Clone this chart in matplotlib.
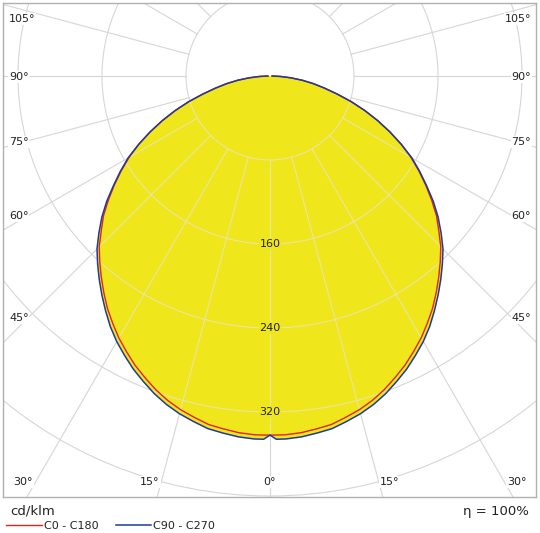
import numpy as np
import matplotlib
matplotlib.use("Agg")
import matplotlib.pyplot as plt
from matplotlib.patches import Circle

# luminous intensity (cd/klm) vs gamma angle, symmetric about 0
gamma = [0, 1, 2.5, 5, 7.5, 10, 12.5, 15, 17.5, 20, 22.5, 25, 27.5, 30, 32.5, 35, 37.5,
         40, 42.5, 45, 47.5, 50, 52.5, 55, 57.5, 60, 62.5, 65, 67.5, 70, 72.5, 75, 77.5,
         80, 82.5, 85, 87.5, 90]
c0_c180 = [342, 342, 342, 341, 339, 337, 333, 329, 324, 318, 311, 304, 296, 288, 279, 270, 260,
           250, 240, 230, 218, 207, 194, 181, 168, 155, 141, 126, 111, 96, 81, 66, 53,
           42, 31, 20, 10, 2]
c90_c270 = [342, 346, 346, 345, 343, 341, 337, 333, 328, 322, 315, 308, 300, 292, 283, 273, 263,
            253, 243, 233, 221, 209, 196, 182, 169, 156, 141, 126, 111, 96, 81, 66, 53,
            42, 31, 20, 10, 2]

grid_radii = [80, 160, 240, 320, 400, 480, 560]
radial_labels = [160, 240, 320]
spoke_step = 15

# angle labels: (text, pixel x, pixel y, align)
angle_labels = [
    ("105°", 9, 19, "left"), ("90°", 9, 77, "left"), ("75°", 9, 142, "left"),
    ("60°", 9, 216, "left"), ("45°", 9, 318, "left"),
    ("105°", 531, 19, "right"), ("90°", 531, 77, "right"), ("75°", 531, 142, "right"),
    ("60°", 531, 216, "right"), ("45°", 531, 318, "right"),
    ("30°", 23, 482, "center"), ("15°", 150, 482, "center"), ("0°", 270, 482, "center"),
    ("15°", 390, 482, "center"), ("30°", 517, 482, "center"),
]

W, H = 540, 533
OX, OY, SCALE = 270, 76, 1.05  # origin in pixels, pixels per cd/klm
YELLOW = "#efe61c"
RED = "#e3221c"
BLUE = "#1d3b9a"
GRID = "#d6d6d6"
GRID_ON_FILL = "#ebe5a4"
TXT = "#222222"


def to_data(px, py):
    return (px - OX) / SCALE, (OY - py) / SCALE


def curve(values):
    g = np.radians(np.array(gamma, dtype=float))
    v = np.array(values, dtype=float)
    th = np.concatenate([-g[::-1], g[1:]])
    r = np.concatenate([v[::-1], v[1:]])
    return r * np.sin(th), -r * np.cos(th)


def draw_grid(ax, color, z, clip=None):
    arts = []
    for rad in grid_radii:
        c = Circle((0, 0), rad, fill=False, ec=color, lw=0.8, zorder=z)
        ax.add_patch(c)
        arts.append(c)
    for a in range(0, 360, spoke_step):
        t = np.radians(a)
        ln, = ax.plot([grid_radii[0] * np.sin(t), 800 * np.sin(t)],
                      [-grid_radii[0] * np.cos(t), -800 * np.cos(t)],
                      color=color, lw=0.8, zorder=z)
        arts.append(ln)
    if clip is not None:
        for art in arts:
            art.set_clip_path(clip)


fig = plt.figure(figsize=(W / 100, H / 100), dpi=100)
ax = fig.add_axes([3 / W, 1 - 497 / H, 533 / W, 494 / H])
x0, y0 = to_data(3, 3)
x1, y1 = to_data(536, 497)
ax.set_xlim(x0, x1)
ax.set_ylim(y1, y0)
ax.set_xticks([])
ax.set_yticks([])
for sp in ax.spines.values():
    sp.set_color("#b0b0b0")
    sp.set_linewidth(1.0)

bx, by = curve(c90_c270)
rx, ry = curve(c0_c180)

draw_grid(ax, GRID, 0.5)
fill = ax.fill(bx, by, color=YELLOW, lw=0, zorder=1)[0]
draw_grid(ax, GRID_ON_FILL, 1.5, clip=fill)

ax.plot(rx, ry, color=RED, lw=1.0, zorder=3, label="C0 - C180")
ax.plot(bx, by, color=BLUE, lw=1.1, zorder=3.5, label="C90 - C270")

for val in radial_labels:
    ax.text(0, -val, str(val), ha="center", va="center", fontsize=8, color=TXT, zorder=5,
            bbox=dict(fc=YELLOW, ec="none", pad=0.6))

for txt, px, py, ha in angle_labels:
    dx, dy = to_data(px, py)
    ax.text(dx, dy, txt, ha=ha, va="center", fontsize=8, color=TXT, zorder=5,
            bbox=dict(fc="white", ec="none", pad=0.6))

fig.text(10 / W, 1 - 511 / H, "cd/klm", ha="left", va="center", fontsize=9.5, color=TXT)
fig.text(529 / W, 1 - 511 / H, "η = 100%", ha="right", va="center", fontsize=9.5, color=TXT)

fig.legend(loc="center left", bbox_to_anchor=(2 / W, 1 - 526 / H),
           ncol=2, frameon=False, fontsize=8, handlelength=3.2, handletextpad=0.2,
           columnspacing=1.5, borderaxespad=0, labelcolor=TXT)

fig.savefig("out.png", dpi=100)
